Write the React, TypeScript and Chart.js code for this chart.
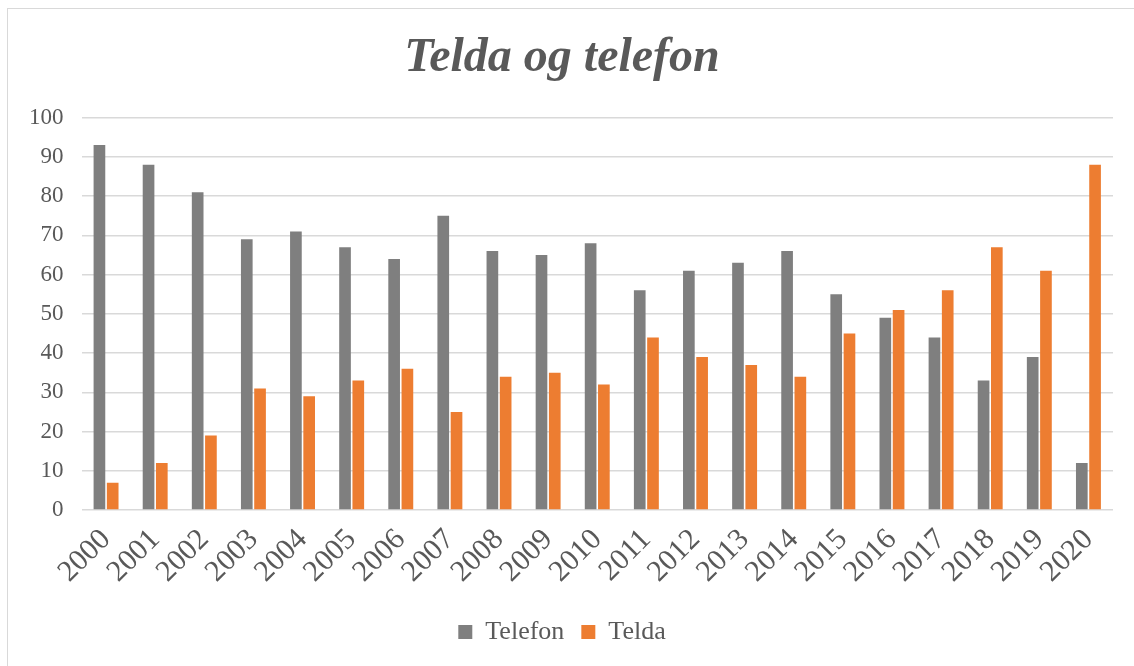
import React, { useEffect, useRef } from "react";
import { Chart, registerables } from "chart.js";

Chart.register(...registerables);

const years = ["2000","2001","2002","2003","2004","2005","2006","2007","2008","2009","2010","2011","2012","2013","2014","2015","2016","2017","2018","2019","2020"];
const telefon = [93, 88, 81, 69, 71, 67, 64, 75, 66, 65, 68, 56, 61, 63, 66, 55, 49, 44, 33, 39, 12];
const telda = [7, 12, 19, 31, 29, 33, 36, 25, 34, 35, 32, 44, 39, 37, 34, 45, 51, 56, 67, 61, 88];
const yTicks = [0, 10, 20, 30, 40, 50, 60, 70, 80, 90, 100];

const FONT = "'Liberation Serif', 'Times New Roman', serif";
const TEXT = "#595959";

export default function App() {
  const ref = useRef<HTMLCanvasElement | null>(null);
  useEffect(() => {
    if (!ref.current) return;
    const chart = new Chart(ref.current, {
      type: "bar",
      data: {
        labels: years,
        datasets: [
          { label: "Telefon", data: telefon, backgroundColor: "#7F7F7F", categoryPercentage: 0.54, barPercentage: 0.88 },
          { label: "Telda", data: telda, backgroundColor: "#ED7D31", categoryPercentage: 0.54, barPercentage: 0.88 },
        ],
      },
      options: {
        animation: false,
        responsive: false,
        layout: { padding: { left: 11, right: 21, top: 30, bottom: 11 } },
        plugins: {
          title: {
            display: true,
            text: "Telda og telefon",
            color: TEXT,
            font: { family: FONT, size: 48, style: "italic", weight: "bold" },
            padding: { top: 0, bottom: 30 },
          },
          legend: {
            position: "bottom",
            labels: {
              color: TEXT,
              font: { family: FONT, size: 26 },
              boxWidth: 14,
              boxHeight: 14,
              padding: 17,
            },
          },
          tooltip: { enabled: false },
        },
        scales: {
          x: {
            grid: { display: false, drawTicks: false },
            border: { display: false },
            ticks: {
              color: TEXT,
              font: { family: FONT, size: 30 },
              minRotation: 45,
              maxRotation: 45,
              autoSkip: false,
              padding: 12,
            },
          },
          y: {
            min: 0,
            max: 100,
            afterBuildTicks: (axis: any) => {
              axis.ticks = yTicks.map((v) => ({ value: v }));
            },
            grid: { color: "#D9D9D9", lineWidth: 1.5, drawTicks: false },
            border: { display: false },
            ticks: {
              color: TEXT,
              font: { family: FONT, size: 23 },
              padding: 18,
            },
          },
        },
      },
    });
    return () => chart.destroy();
  }, []);
  return (
    <div style={{ position: "fixed", left: 0, top: 0, width: 1134, height: 666, background: "#fff" }}>
      <div
        style={{
          position: "absolute",
          left: 7,
          top: 8,
          width: 1200,
          height: 700,
          borderLeft: "1.5px solid #D9D9D9",
          borderTop: "1.5px solid #D9D9D9",
        }}
      />
      <canvas ref={ref} width={1134} height={666} style={{ position: "absolute", left: 0, top: 0 }} />
    </div>
  );
}
